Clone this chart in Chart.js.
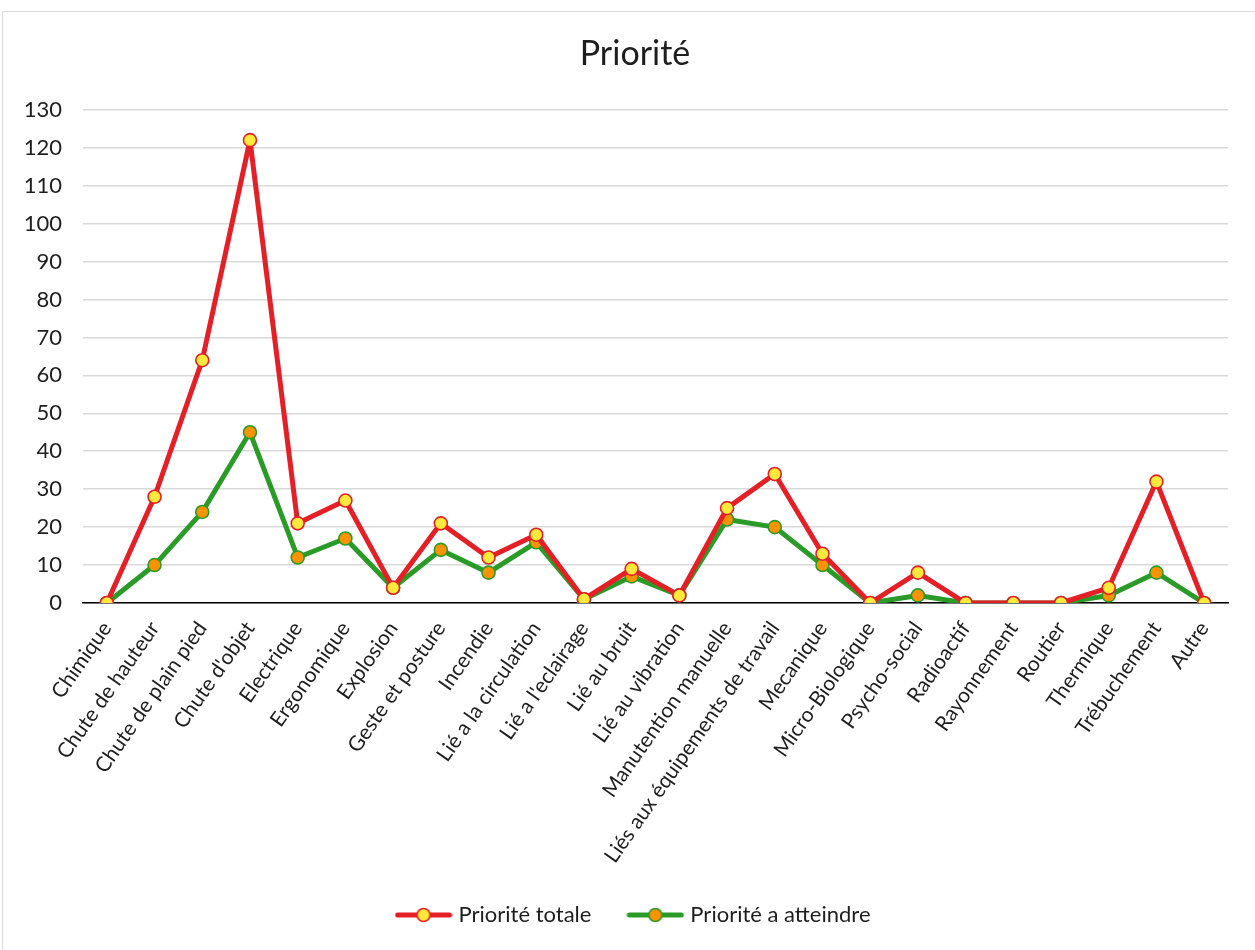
<!DOCTYPE html>
<html lang="fr">
<head>
<meta charset="utf-8">
<title>Priorité</title>
<script src="https://cdn.jsdelivr.net/npm/chart.js@4"></script>
<style>
  html, body { margin: 0; padding: 0; background: #ffffff; overflow: hidden; }
  #frame {
    position: absolute; left: 2px; top: 11px;
    width: 1300px; height: 1000px;
    border: 1px solid #d9d9d9; box-sizing: border-box;
  }
  #chart { position: absolute; left: 0; top: 0; }
</style>
</head>
<body>
<div id="frame"></div>
<canvas id="chart" width="1255" height="950"></canvas>
<script>
// Risk categories (x axis)
const categories = [
  "Chimique", "Chute de hauteur", "Chute de plain pied", "Chute d'objet",
  "Electrique", "Ergonomique", "Explosion", "Geste et posture", "Incendie",
  "Lié a la circulation", "Lié a l'eclairage", "Lié au bruit", "Lié au vibration",
  "Manutention manuelle", "Liés aux équipements de travail", "Mecanique",
  "Micro-Biologique", "Psycho-social", "Radioactif", "Rayonnement", "Routier",
  "Thermique", "Trébuchement", "Autre"
];

// Series values
const prioriteTotale = [0, 28, 64, 122, 21, 27, 4, 21, 12, 18, 1, 9, 2, 25, 34, 13, 0, 8, 0, 0, 0, 4, 32, 0];
const prioriteAtteindre = [0, 10, 24, 45, 12, 17, 4, 14, 8, 16, 1, 7, 2, 22, 20, 10, 0, 2, 0, 0, 0, 2, 8, 0];

// Value axis
const yMin = 0;
const yMax = 130;
const yStep = 10;

const FONT = "Lato, 'Liberation Sans', sans-serif";
const TEXT = "#1e1e1e";

// Legend swatch: a short line with a marker in its middle
function swatch(lineColor, fillColor) {
  const c = document.createElement("canvas");
  c.width = 58; c.height = 20;
  const g = c.getContext("2d");
  g.strokeStyle = lineColor; g.lineWidth = 5; g.lineCap = "round";
  g.beginPath(); g.moveTo(3, 10); g.lineTo(55, 10); g.stroke();
  g.fillStyle = fillColor; g.strokeStyle = lineColor; g.lineWidth = 1.6;
  g.beginPath(); g.arc(29, 10, 6.5, 0, Math.PI * 2); g.fill(); g.stroke();
  return c;
}

const RED = "#e41f26", YELLOW = "#ffe93b";
const GREEN = "#2a9b27", ORANGE = "#ff9200";

function series(label, values, line, fill) {
  return {
    label: label,
    data: values,
    borderColor: line, borderWidth: 5,
    borderJoinStyle: "round", borderCapStyle: "round",
    pointBackgroundColor: fill, pointBorderColor: line,
    pointBorderWidth: 1.6, pointRadius: 6.5,
    tension: 0, pointStyle: "circle",
    legendSwatch: swatch(line, fill)
  };
}

// Centre the title and legend over the plot area rather than the whole canvas
const centreOnPlot = {
  id: "centreOnPlot",
  afterLayout(chart) {
    if (chart.legend) chart.legend.left += 42;
    if (chart.titleBlock) chart.titleBlock.left += 42;
  }
};

new Chart(document.getElementById("chart"), {
  type: "line",
  data: {
    labels: categories,
    datasets: [
      series("Priorité totale", prioriteTotale, RED, YELLOW),
      series("Priorité a atteindre", prioriteAtteindre, GREEN, ORANGE)
    ]
  },
  plugins: [centreOnPlot],
  options: {
    responsive: false,
    animation: false,
    devicePixelRatio: 1,
    events: [],
    layout: { padding: { left: 0, right: 27, top: 0, bottom: 14 } },
    scales: {
      x: {
        offset: true,
        grid: { display: false, drawTicks: false },
        border: { display: true, color: "#000000", width: 1.5 },
        ticks: {
          autoSkip: false, maxRotation: 55, minRotation: 55,
          padding: 14, color: TEXT,
          font: { family: FONT, size: 21 }
        },
        afterFit(scale) { scale.height = 261; }
      },
      y: {
        min: yMin, max: yMax,
        grid: { color: "#d9d9d9", lineWidth: 1.5, drawTicks: false },
        border: { display: false },
        ticks: {
          stepSize: yStep, padding: 21, color: TEXT,
          font: { family: FONT, size: 22 }
        },
        afterFit(scale) { scale.width = 83; }
      }
    },
    plugins: {
      title: {
        display: true, text: "Priorité", color: TEXT,
        font: { family: FONT, size: 34, weight: "normal" },
        padding: { top: 34, bottom: 35 }
      },
      legend: {
        position: "bottom",
        labels: {
          color: TEXT,
          font: { family: FONT, size: 22 },
          usePointStyle: true,
          pointStyleWidth: 48,
          padding: 40,
          generateLabels(chart) {
            return chart.data.datasets.map((ds, i) => ({
              text: ds.label,
              datasetIndex: i,
              pointStyle: ds.legendSwatch,
              fillStyle: ds.borderColor,
              strokeStyle: ds.borderColor,
              lineWidth: 0,
              hidden: false,
              fontColor: TEXT
            }));
          }
        }
      },
      tooltip: { enabled: false }
    }
  }
});
</script>
</body>
</html>
